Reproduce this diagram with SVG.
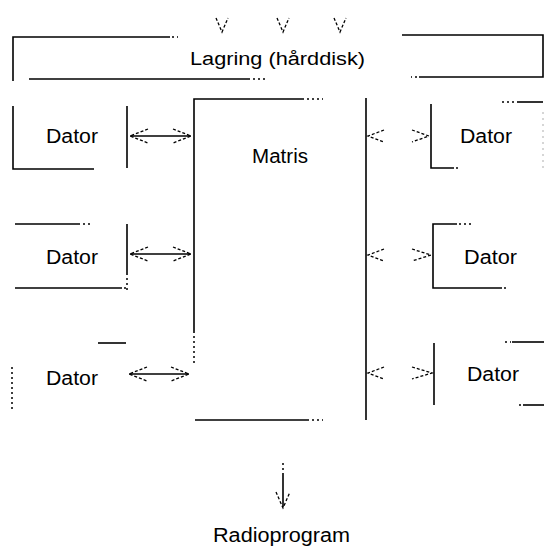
<svg xmlns="http://www.w3.org/2000/svg" width="544" height="546" viewBox="0 0 544 546">
<style>
.ln{fill:none;stroke:#000;stroke-width:1.6}
.dt{fill:none;stroke:#000;stroke-width:1.5;stroke-dasharray:2 3}
.fd{fill:none;stroke:#bbb;stroke-width:1.2;stroke-dasharray:2 4}
.hd{fill:none;stroke:#000;stroke-width:1.3;stroke-dasharray:3 2}
.tx{font-family:"Liberation Sans",Arial,sans-serif;font-size:20px;fill:#000}
</style>
<rect width="544" height="546" fill="#fff"/>
<g id="storage">
<path class="ln" d="M13,81 V37 H170"/>
<path class="dt" d="M172,37 H178"/>
<path class="ln" d="M29,79 H250"/>
<path class="dt" d="M253,79 H267"/>
<path class="ln" d="M402,35 H543 V77 H419"/>
<path class="dt" d="M417,77 H411"/>
<text class="tx" x="190" y="65" style="font-size:18px" textLength="175" lengthAdjust="spacingAndGlyphs">Lagring (hårddisk)</text>
</g>
<g id="matrix">
<path class="ln" d="M194,333 V99 H304"/>
<path class="dt" d="M307,99 H323"/>
<path class="dt" d="M194,336 V364"/>
<path class="ln" d="M195,420 H309"/>
<path class="dt" d="M312,420 H323"/>
<path class="ln" d="M366,98 V420"/>
<text class="tx" x="252" y="163" textLength="56" lengthAdjust="spacingAndGlyphs">Matris</text>
</g>
<g id="pc-left-1">
<path class="ln" d="M13,106 V169 H94"/>
<path class="ln" d="M127,106 V168"/>
<text class="tx" x="46" y="143" textLength="52" lengthAdjust="spacingAndGlyphs">Dator</text>
</g>
<g id="pc-left-2">
<path class="ln" d="M15,224 H80"/>
<path class="dt" d="M83,224 H93"/>
<path class="ln" d="M127,224 V275"/>
<path class="dt" d="M127,278 V291"/>
<path class="ln" d="M15,288 H122"/>
<path class="dt" d="M124,288 H127"/>
<text class="tx" x="46" y="264" textLength="52" lengthAdjust="spacingAndGlyphs">Dator</text>
</g>
<g id="pc-left-3">
<path class="ln" d="M98,343 H126"/>
<path class="dt" d="M12,367 V409"/>
<text class="tx" x="46" y="385" textLength="52" lengthAdjust="spacingAndGlyphs">Dator</text>
</g>
<g id="pc-right-1">
<path class="ln" d="M431,104 V168 H454"/>
<path class="dt" d="M456,168 H459"/>
<path class="dt" d="M502,102 H516"/>
<path class="ln" d="M517,102 H543"/>
<path class="fd" d="M543,112 V168"/>
<text class="tx" x="460" y="143" textLength="52" lengthAdjust="spacingAndGlyphs">Dator</text>
</g>
<g id="pc-right-2">
<path class="ln" d="M457,224 H433 V288 H502"/>
<path class="dt" d="M459,224 H471"/>
<path class="dt" d="M504,288 H507"/>
<text class="tx" x="464" y="264" textLength="53" lengthAdjust="spacingAndGlyphs">Dator</text>
</g>
<g id="pc-right-3">
<path class="ln" d="M434,343 V405"/>
<path class="dt" d="M505,342 H511"/>
<path class="ln" d="M512,342 H544"/>
<path class="dt" d="M519,405 H522"/>
<path class="ln" d="M523,405 H544"/>
<text class="tx" x="467" y="381" textLength="52" lengthAdjust="spacingAndGlyphs">Dator</text>
</g>
<g id="output">
<text class="tx" x="213" y="542" textLength="137" lengthAdjust="spacingAndGlyphs">Radioprogram</text>
</g>
<g id="connectors">
<path class="hd" d="M216,18 L222,32 L228,18"/>
<path class="hd" d="M277,18 L283,32 L289,18"/>
<path class="hd" d="M334,18 L340,32 L346,18"/>
<path class="ln" d="M130,136 H191"/>
<path class="hd" d="M148,129 L130,136 L148,143 M173,129 L191,136 L173,143"/>
<path class="ln" d="M130,254 H191"/>
<path class="hd" d="M148,247 L130,254 L148,261 M173,247 L191,254 L173,261"/>
<path class="ln" d="M129,374 H189"/>
<path class="hd" d="M147,367 L129,374 L147,381 M171,367 L189,374 L171,381"/>
<path class="hd" d="M384,130 L368,136 L384,142 M412,130 L429,136 L412,142"/>
<path class="hd" d="M384,249 L368,255 L384,261 M412,249 L431,255 L412,261"/>
<path class="hd" d="M384,367 L368,373 L384,379 M412,367 L432,373 L412,379"/>
<path class="dt" d="M283,463 V472"/>
<path class="ln" d="M283,473 V507"/>
<path class="hd" d="M276,492 L283,508 L290,492"/>
</g>
</svg>
